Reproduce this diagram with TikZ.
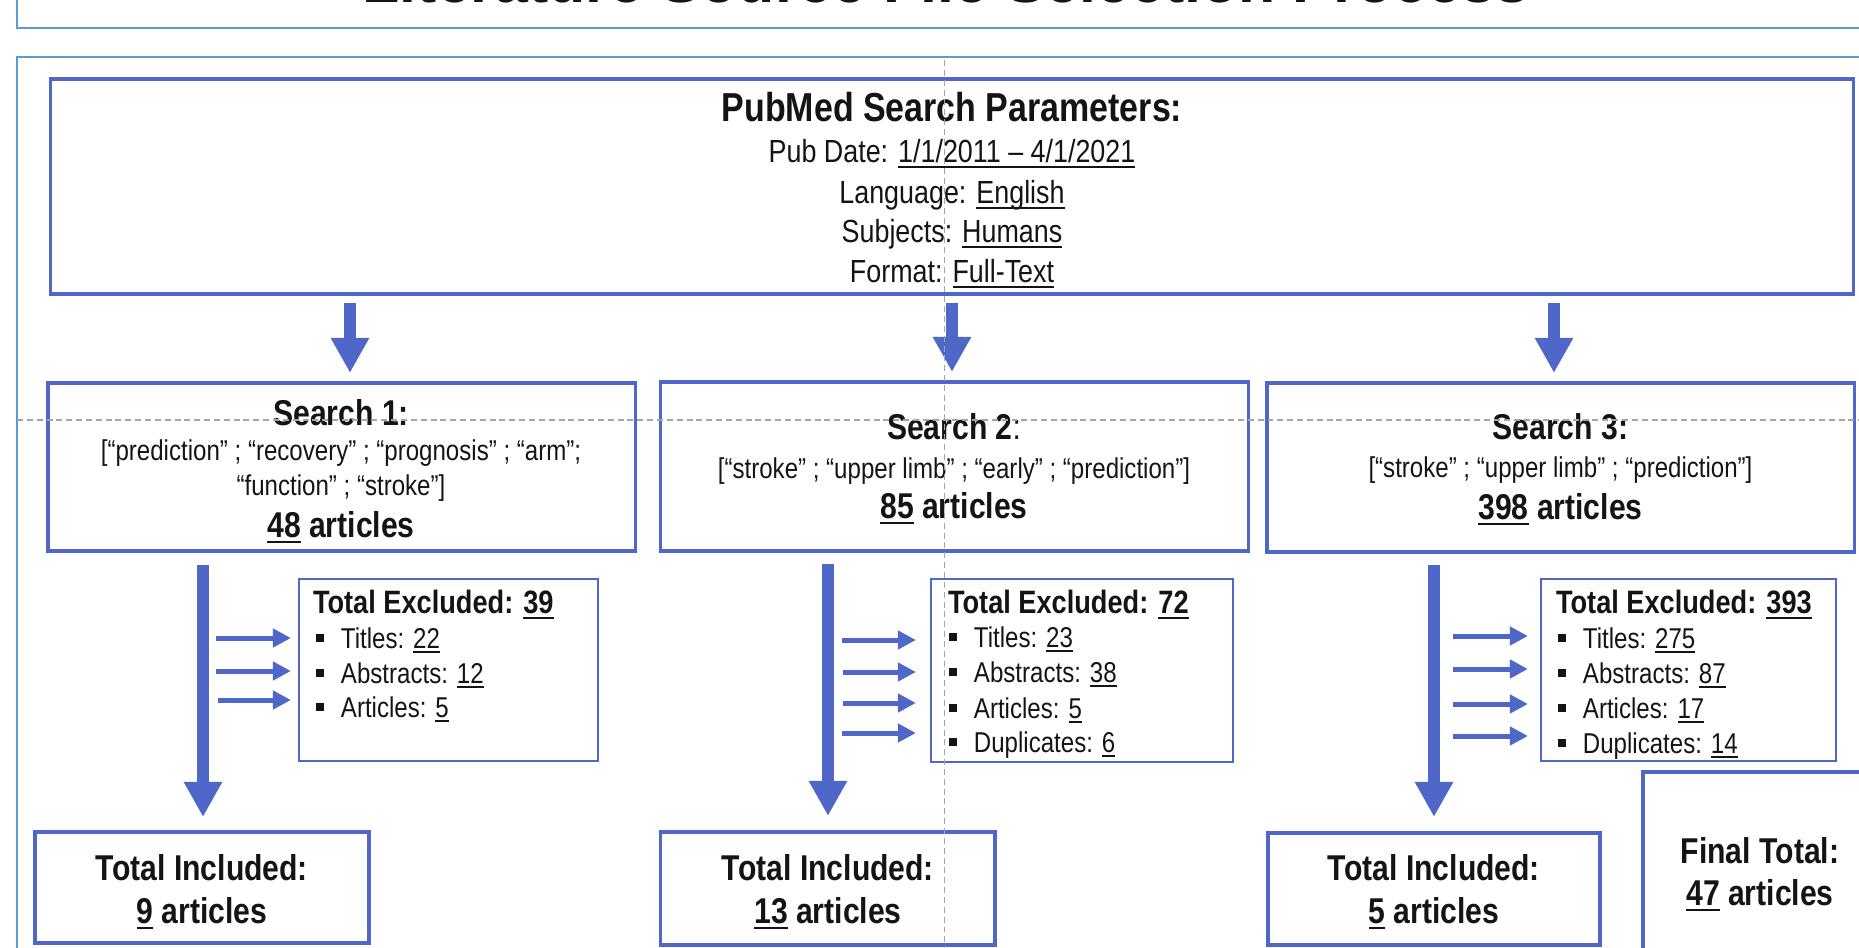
\documentclass[tikz,border=0pt]{standalone}
\usepackage{fontspec}
\setmainfont{Liberation Sans}[FakeStretch=0.84]
\newfontfamily\ttlfont{Liberation Sans}
\usetikzlibrary{arrows.meta}
\definecolor{boxblue}{RGB}{78,103,200}
\definecolor{panelblue}{RGB}{91,155,213}
\definecolor{guidegray}{RGB}{165,165,165}
\definecolor{ink}{RGB}{20,20,20}
\newcommand\myul[1]{\begingroup\setbox0=\hbox{#1}\rlap{\vrule height -0.12em depth 0.18em width \wd0}\box0\endgroup}
\newcommand\itm[1]{\rule[1.7pt]{2.3pt}{2.3pt}\hspace{4.8pt}#1}
\tikzset{
  bigbox/.style={draw=boxblue, line width=0.95pt, inner sep=0pt, outer sep=0pt},
  exbox/.style={draw=boxblue, line width=0.45pt, inner sep=0pt, outer sep=0pt},
  txt/.style={inner sep=0pt, outer sep=0pt, anchor=base, text=ink},
  txtl/.style={inner sep=0pt, outer sep=0pt, anchor=base west, text=ink},
  hdbig/.style={font=\fontsize{11.5pt}{13pt}\selectfont\bfseries},
  hd/.style={font=\fontsize{10.2pt}{12pt}\selectfont\bfseries},
  prm/.style={font=\fontsize{9.1pt}{11pt}\selectfont},
  kw/.style={font=\fontsize{8.15pt}{10pt}\selectfont},
  exh/.style={font=\fontsize{9.2pt}{11pt}\selectfont\bfseries},
  itemtxt/.style={font=\fontsize{8.15pt}{10pt}\selectfont},
  downarrow/.style={draw=boxblue, line width=3.41pt, -{Triangle[width=10.24pt,length=9.96pt]}, boxblue},
  smallarrow/.style={draw=boxblue, line width=1.42pt, -{Triangle[width=5.1pt,length=5.1pt]}, boxblue},
  panel/.style={draw=panelblue, line width=0.57pt},
  guide/.style={draw=guidegray, line width=0.3pt, dash pattern=on 1.7pt off 1.1pt}
}
\begin{document}
\begin{tikzpicture}[x=0.01cm, y=-0.01cm]
\useasboundingbox (0,0) rectangle (1859,948);
\clip (0,0) rectangle (1859,948);

% title box and panel
\draw[panel] (17,-60) rectangle (1900,28);
\node[inner sep=0pt, anchor=base, text=ink, font=\ttlfont\fontsize{17.3pt}{20pt}\selectfont\bfseries] (title) at (946,2.5) {Literature Source File Selection Process};
\draw[panel] (17,57) rectangle (1900,1000);

% PubMed box
\node[bigbox, minimum width=18.02cm, minimum height=2.15cm] (P) at (952,186.5) {};
\node[txt, hdbig] (Pt) at (952,121) {PubMed Search Parameters:};
\node[txt, prm] (P1) at (952,162) {Pub Date: \myul{1/1/2011 – 4/1/2021}};
\node[txt, prm] (P2) at (952,203) {Language: \myul{English}};
\node[txt, prm] (P3) at (952,242) {Subjects: \myul{Humans}};
\node[txt, prm] (P4) at (952,282) {Format: \myul{Full-Text}};

% Search boxes
\node[bigbox, minimum width=5.87cm, minimum height=1.68cm] (S1) at (341.5,467) {};
\node[bigbox, minimum width=5.875cm, minimum height=1.69cm] (S2) at (954.25,466.5) {};
\node[bigbox, minimum width=5.87cm, minimum height=1.69cm] (S3) at (1560.5,467.5) {};

\node[txt, hd] (S1t) at (341,425) {Search 1:};
\node[txt, kw] (S1a) at (341,460) {[“prediction” ; “recovery” ; “prognosis” ; “arm”;};
\node[txt, kw] (S1b) at (341,495) {“function” ; “stroke”]};
\node[txt, hd] (S1n) at (341,537) {\myul{48} articles};

\node[txt, hd] (S2t) at (954,439) {Search 2{\mdseries :}};
\node[txt, kw] (S2a) at (954,478) {[“stroke” ; “upper limb” ; “early” ; “prediction”]};
\node[txt, hd] (S2n) at (954,518) {\myul{85} articles};

\node[txt, hd] (S3t) at (1560.5,439) {Search 3:};
\node[txt, kw] (S3a) at (1560.5,477) {[“stroke” ; “upper limb” ; “prediction”]};
\node[txt, hd] (S3n) at (1560.5,519) {\myul{398} articles};

% Excluded boxes
\node[exbox, minimum width=2.99cm, minimum height=1.82cm] (E1) at (448.5,670) {};
\node[exbox, minimum width=3.02cm, minimum height=1.83cm] (E2) at (1082,670.5) {};
\node[exbox, minimum width=2.95cm, minimum height=1.82cm] (E3) at (1688.5,670) {};

\node[txtl, exh] (E1h) at (313,613) {Total Excluded: \myul{39}};
\node[txtl, itemtxt] (E1a) at (316,648) {\itm{Titles: \myul{22}}};
\node[txtl, itemtxt] (E1b) at (316,683) {\itm{Abstracts: \myul{12}}};
\node[txtl, itemtxt] (E1c) at (316,717) {\itm{Articles: \myul{5}}};

\node[txtl, exh] (E2h) at (948,613) {Total Excluded: \myul{72}};
\node[txtl, itemtxt] (E2a) at (949,647) {\itm{Titles: \myul{23}}};
\node[txtl, itemtxt] (E2b) at (949,682) {\itm{Abstracts: \myul{38}}};
\node[txtl, itemtxt] (E2c) at (949,718) {\itm{Articles: \myul{5}}};
\node[txtl, itemtxt] (E2d) at (949,752) {\itm{Duplicates: \myul{6}}};

\node[txtl, exh] (E3h) at (1556,613) {Total Excluded: \myul{393}};
\node[txtl, itemtxt] (E3a) at (1558,648) {\itm{Titles: \myul{275}}};
\node[txtl, itemtxt] (E3b) at (1558,683) {\itm{Abstracts: \myul{87}}};
\node[txtl, itemtxt] (E3c) at (1558,718) {\itm{Articles: \myul{17}}};
\node[txtl, itemtxt] (E3d) at (1558,753) {\itm{Duplicates: \myul{14}}};

% Included boxes
\node[bigbox, minimum width=3.34cm, minimum height=1.11cm] (I1) at (202,887.5) {};
\node[bigbox, minimum width=3.345cm, minimum height=1.13cm] (I2) at (827.75,888.5) {};
\node[bigbox, minimum width=3.32cm, minimum height=1.12cm] (I3) at (1434,889) {};
\node[bigbox, minimum width=2.34cm, minimum height=2.06cm] (F) at (1760,875) {};

\node[txt, hd] (I1t) at (202,880) {Total Included:};
\node[txt, hd] (I1n) at (202,923) {\myul{9} articles};
\node[txt, hd] (I2t) at (828,880) {Total Included:};
\node[txt, hd] (I2n) at (828,923) {\myul{13} articles};
\node[txt, hd] (I3t) at (1434,880) {Total Included:};
\node[txt, hd] (I3n) at (1434,923) {\myul{5} articles};
\node[txt, hd] (Ft) at (1760,863) {Final Total:};
\node[txt, hd] (Fn) at (1760,905) {\myul{47} articles};

% arrows from PubMed to searches
\coordinate (d1) at (350,0);
\coordinate (d2) at (952,0);
\coordinate (d3) at (1554,0);
\draw[downarrow, shorten <=0.09cm, shorten >=0.1cm] (P.south -| d1) -- (S1.north -| d1);
\draw[downarrow, shorten <=0.09cm, shorten >=0.1cm] (P.south -| d2) -- (S2.north -| d2);
\draw[downarrow, shorten <=0.09cm, shorten >=0.1cm] (P.south -| d3) -- (S3.north -| d3);

% big vertical arrows
\coordinate (v1) at (203,0);
\coordinate (v2) at (828,0);
\coordinate (v3) at (1434,0);
\draw[downarrow, shorten <=0.14cm, shorten >=0.15cm] (S1.south -| v1) -- (I1.north -| v1);
\draw[downarrow, shorten <=0.13cm, shorten >=0.16cm] (S2.south -| v2) -- (I2.north -| v2);
\draw[downarrow, shorten <=0.13cm, shorten >=0.16cm] (S3.south -| v3) -- (I3.north -| v3);

% small arrows
\coordinate (a11) at (216,638);
\coordinate (a12) at (216,671);
\coordinate (a13) at (218,700);
\draw[smallarrow, shorten >=0.08cm] (a11) -- (a11 -| E1.west);
\draw[smallarrow, shorten >=0.08cm] (a12) -- (a12 -| E1.west);
\draw[smallarrow, shorten >=0.08cm] (a13) -- (a13 -| E1.west);

\coordinate (a21) at (842,640);
\coordinate (a22) at (843,672);
\coordinate (a23) at (843,703);
\coordinate (a24) at (842,733);
\draw[smallarrow, shorten >=0.15cm] (a21) -- (a21 -| E2.west);
\draw[smallarrow, shorten >=0.15cm] (a22) -- (a22 -| E2.west);
\draw[smallarrow, shorten >=0.15cm] (a23) -- (a23 -| E2.west);
\draw[smallarrow, shorten >=0.15cm] (a24) -- (a24 -| E2.west);

\coordinate (a31) at (1453,636);
\coordinate (a32) at (1453,669);
\coordinate (a33) at (1453,704);
\coordinate (a34) at (1453,736);
\draw[smallarrow, shorten >=0.13cm] (a31) -- (a31 -| E3.west);
\draw[smallarrow, shorten >=0.13cm] (a32) -- (a32 -| E3.west);
\draw[smallarrow, shorten >=0.13cm] (a33) -- (a33 -| E3.west);
\draw[smallarrow, shorten >=0.13cm] (a34) -- (a34 -| E3.west);

% guide lines
\draw[guide] (944.5,60) -- (944.5,948);
\draw[guide] (17,420) -- (1859,420);
\end{tikzpicture}
\end{document}
